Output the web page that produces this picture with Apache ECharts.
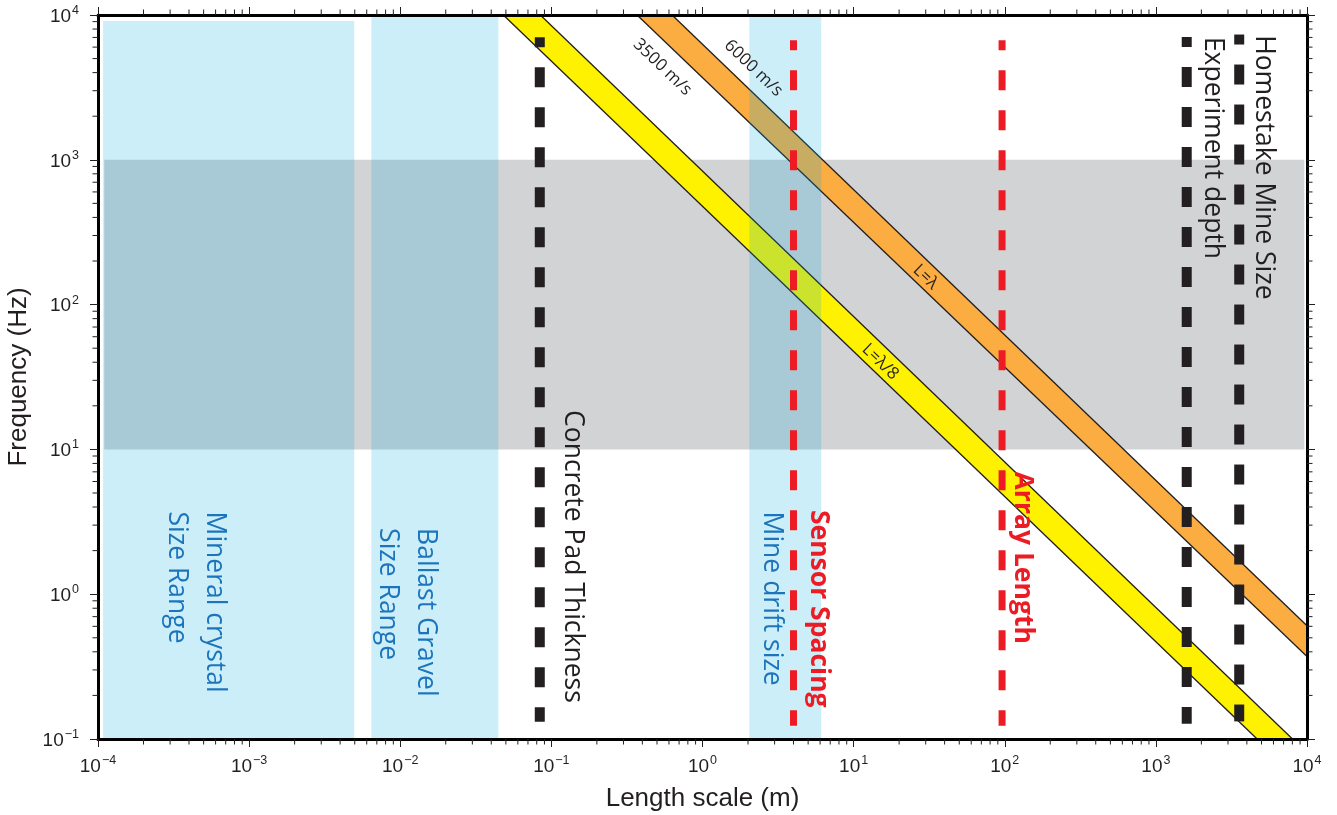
<!DOCTYPE html>
<html><head><meta charset="utf-8">
<style>html,body{margin:0;padding:0;background:#fff}#c{width:1337px;height:815px}</style>
<script src="https://cdn.jsdelivr.net/npm/echarts@6/dist/echarts.min.js"></script>
</head><body><div id="c"></div>
<script>
// ---------- data ----------
const X_MIN = 1e-4, X_MAX = 1e4, Y_MIN = 1e-1, Y_MAX = 1e4;
const xTickExponents = [-4, -3, -2, -1, 0, 1, 2, 3, 4];
const yTickExponents = [-1, 0, 1, 2, 3, 4];

// light-blue size ranges (length from/to, frequency from/to)
const sizeRangeNames = ['Mineral crystal\nSize Range', 'Ballast Gravel\nSize Range', 'Mine drift size'];
const sizeRangeX = [[1.08e-4, 4.96e-3], [6.44e-3, 0.0446], [2.04, 6.1]];
const sizeRangeY = [[0.1, 9100], [0.1, 1e4], [0.1, 1e4]];

// gray frequency band
const freqBandX = [1.1e-4, 9.6e3];
const freqBandY = [10, 1000];

// wavelength bands: edge lines (3500 m/s edge, 6000 m/s edge)
const lambda8Edge3500 = [[0.0481, 1e4], [4677, 0.1]];
const lambda8Edge6000 = [[0.0845, 1e4], [8017, 0.1]];
const lambdaEdge3500 = [[0.369, 1e4], [1e4, 0.371]];
const lambdaEdge6000 = [[0.629, 1e4], [1e4, 0.605]];

// dashed marker lines
const markerNames = ['Concrete Pad Thickness', 'Sensor Spacing', 'Array Length', 'Experiment depth', 'Homestake Mine Size'];
const markerX = [0.0838, 4.0, 96, 1600, 3560];
const markerTop = [7030, 6700, 6700, 7060, 7330];
const markerBottom = [0.1315, 0.1235, 0.1235, 0.1275, 0.1323];

// ---------- styles / annotations ----------
const BLACK = '#231f20', RED = '#ed1c24', BLUE_TXT = '#1c75bc';
const markerColor = [BLACK, RED, RED, BLACK, BLACK];
const markerWidth = [10, 7, 7, 10, 10];

// vertical labels: [text, anchorX, anchorY (start of text), color, weight]
const vLabels = [
  [sizeRangeNames[0], 4.41e-4, 3.72, BLUE_TXT, 'normal'],
  [sizeRangeNames[1], 0.01096, 2.86, BLUE_TXT, 'normal'],
  [sizeRangeNames[2], 2.86, 3.72, BLUE_TXT, 'normal'],
  [markerNames[0], 0.1387, 18.7, BLACK, 'normal'],
  [markerNames[1], 5.85, 3.82, RED, 'bold'],
  [markerNames[2], 130.3, 7.03, RED, 'bold'],
  [markerNames[3], 2360, 7060, BLACK, 'normal'],
  [markerNames[4], 5180, 7260, BLACK, 'normal']
];
// slanted labels: [text, x, y]
const sLabels = [
  ['3500 m/s', 0.543, 4363],
  ['6000 m/s', 2.17, 4296],
  ['L=\u03bb', 29.9, 155],
  ['L=\u03bb/8', 15.0, 40.2]
];

const LABEL_FONT = '"Open Sans", "Noto Sans", sans-serif';
const AXIS_FONT = '"Liberation Sans", Arial, sans-serif';

function expLabel(v) {
  const e = Math.round(Math.log10(v));
  return '{b|10}{s|' + (e < 0 ? '\u2212' + (-e) : String(e)) + '}';
}
const axisRich = {
  b: { fontSize: 19, fontFamily: AXIS_FONT, color: BLACK, lineHeight: 22, verticalAlign: 'bottom' },
  s: { fontSize: 12.5, fontFamily: AXIS_FONT, color: BLACK, lineHeight: 22, verticalAlign: 'top', padding: [0, 0, 0, 1] }
};

function baseAxis(extra) {
  return Object.assign({
    type: 'log', logBase: 10,
    z: 10,
    splitLine: { show: false },
    axisLine: { show: true, onZero: false, lineStyle: { color: '#000', width: 3 } },
    axisTick: { show: true, inside: false, length: 8, lineStyle: { color: BLACK, width: 1 } },
    minorTick: { show: false },
  }, extra);
}

const chart = echarts.init(document.getElementById('c'), null, { renderer: 'canvas' });

const series = [];

// gray frequency band
series.push({
  type: 'custom', z: 1, silent: true, clip: false,
  encode: { x: [0, 1], y: [2, 3] },
  data: [[freqBandX[0], freqBandX[1], freqBandY[0], freqBandY[1]]],
  renderItem: (p, api) => {
    const a = api.coord([api.value(0), api.value(3)]);
    const b = api.coord([api.value(1), api.value(2)]);
    return { type: 'rect', shape: { x: a[0], y: a[1], width: b[0] - a[0], height: b[1] - a[1] }, style: { fill: '#d1d3d4' } };
  }
});

// wavelength bands
const bands = [
  { e1: lambda8Edge3500, e2: lambda8Edge6000, color: '#fff200' },
  { e1: lambdaEdge3500, e2: lambdaEdge6000, color: '#fbad42' }
];
series.push({
  type: 'custom', z: 2, silent: true, clip: false,
  data: bands.map((b, i) => [i, i]),
  renderItem: (p, api) => {
    const b = bands[p.dataIndex];
    const c = pt => api.coord(pt);
    const poly = [c(b.e1[0]), c(b.e2[0]), c(b.e2[1]), c(b.e1[1])];
    return {
      type: 'group', children: [
        { type: 'polygon', shape: { points: poly }, style: { fill: b.color, stroke: null } },
        { type: 'polyline', shape: { points: [c(b.e1[0]), c(b.e1[1])] }, style: { stroke: BLACK, lineWidth: 1.3, fill: null } },
        { type: 'polyline', shape: { points: [c(b.e2[0]), c(b.e2[1])] }, style: { stroke: BLACK, lineWidth: 1.3, fill: null } }
      ]
    };
  }
});

// light blue size ranges (translucent, over the other bands)
series.push({
  type: 'custom', z: 3, silent: true, clip: false,
  encode: { x: [0, 1], y: [2, 3] },
  data: sizeRangeX.map((r, i) => [r[0], r[1], sizeRangeY[i][0], sizeRangeY[i][1]]),
  renderItem: (p, api) => {
    const a = api.coord([api.value(0), api.value(3)]);
    const b = api.coord([api.value(1), api.value(2)]);
    return { type: 'rect', shape: { x: a[0], y: a[1], width: b[0] - a[0], height: b[1] - a[1] }, style: { fill: 'rgba(0,170,225,0.2)' } };
  }
});

// dashed marker lines
markerNames.forEach((n, i) => {
  series.push({
    type: 'line', name: n, z: 4, silent: true, symbol: 'none', animation: false,
    data: [[markerX[i], markerTop[i]], [markerX[i], markerBottom[i]]],
    lineStyle: { color: markerColor[i], width: markerWidth[i], type: [20, 20], dashOffset: 10, cap: 'butt' }
  });
});

// vertical labels
series.push({
  type: 'custom', z: 5, silent: true, clip: false,
  data: vLabels.map(l => [l[1], l[2]]),
  renderItem: (p, api) => {
    const l = vLabels[p.dataIndex];
    const pt = api.coord([l[1], l[2]]);
    return {
      type: 'text', x: pt[0], y: pt[1], rotation: -Math.PI / 2,
      style: { text: l[0], fill: l[3], fontSize: 26.5, fontFamily: LABEL_FONT, fontWeight: l[4], align: 'left', verticalAlign: 'middle', lineHeight: 38 }
    };
  }
});

// slanted labels
series.push({
  type: 'custom', z: 5, silent: true, clip: false,
  data: sLabels.map(l => [l[1], l[2]]),
  renderItem: (p, api) => {
    const l = sLabels[p.dataIndex];
    const pt = api.coord([l[1], l[2]]);
    const a = api.coord([1, 1]), b = api.coord([10, 0.1]);
    const ang = Math.atan2(b[1] - a[1], b[0] - a[0]);
    return {
      type: 'text', x: pt[0], y: pt[1], rotation: -ang,
      style: { text: l[0], fill: BLACK, fontSize: 17, fontFamily: LABEL_FONT, align: 'center', verticalAlign: 'middle' }
    };
  }
});

// minor ticks on all four sides
series.push({
  type: 'custom', z: 11, silent: true, clip: false,
  data: [[1, 1]],
  renderItem: (p, api) => {
    const ch = [];
    const st = { stroke: BLACK, lineWidth: 1 };
    for (let e = Math.log10(X_MIN); e < Math.log10(X_MAX); e++) {
      for (let m = 2; m <= 9; m++) {
        const v = m * Math.pow(10, e);
        const b = api.coord([v, Y_MIN]), t = api.coord([v, Y_MAX]);
        ch.push({ type: 'line', shape: { x1: b[0], y1: b[1], x2: b[0], y2: b[1] + 5.5 }, style: st });
        ch.push({ type: 'line', shape: { x1: t[0], y1: t[1], x2: t[0], y2: t[1] - 5.5 }, style: st });
      }
    }
    for (let e = Math.log10(Y_MIN); e < Math.log10(Y_MAX) - 0.5; e++) {
      for (let m = 2; m <= 9; m++) {
        const v = m * Math.pow(10, e);
        const l = api.coord([X_MIN, v]), r = api.coord([X_MAX, v]);
        ch.push({ type: 'line', shape: { x1: l[0], y1: l[1], x2: l[0] - 5.5, y2: l[1] }, style: st });
        ch.push({ type: 'line', shape: { x1: r[0], y1: r[1], x2: r[0] + 5.5, y2: r[1] }, style: st });
      }
    }
    return { type: 'group', children: ch };
  }
});

chart.setOption({
  animation: false,
  backgroundColor: '#fff',
  grid: { left: 98, right: 30, top: 15, bottom: 76, containLabel: false, outerBoundsMode: 'none' },
  xAxis: [
    baseAxis({
      position: 'bottom', min: X_MIN, max: X_MAX,
      name: 'Length scale (m)', nameLocation: 'middle', nameGap: 47,
      nameTextStyle: { fontSize: 26, fontFamily: AXIS_FONT, color: BLACK },
      axisLabel: { show: true, margin: 15, fontSize: 19, formatter: expLabel, rich: axisRich }
    }),
    baseAxis({ position: 'top', min: X_MIN, max: X_MAX, axisLabel: { show: false } })
  ],
  yAxis: [
    baseAxis({
      position: 'left', min: Y_MIN, max: Y_MAX,
      name: 'Frequency (Hz)', nameLocation: 'middle', nameGap: 66,
      nameTextStyle: { fontSize: 26, fontFamily: AXIS_FONT, color: BLACK },
      axisLabel: { show: true, margin: 19, fontSize: 19, formatter: expLabel, rich: axisRich }
    }),
    baseAxis({ position: 'right', min: Y_MIN, max: Y_MAX, axisLabel: { show: false } })
  ],
  series: series
});
</script>
</body></html>
